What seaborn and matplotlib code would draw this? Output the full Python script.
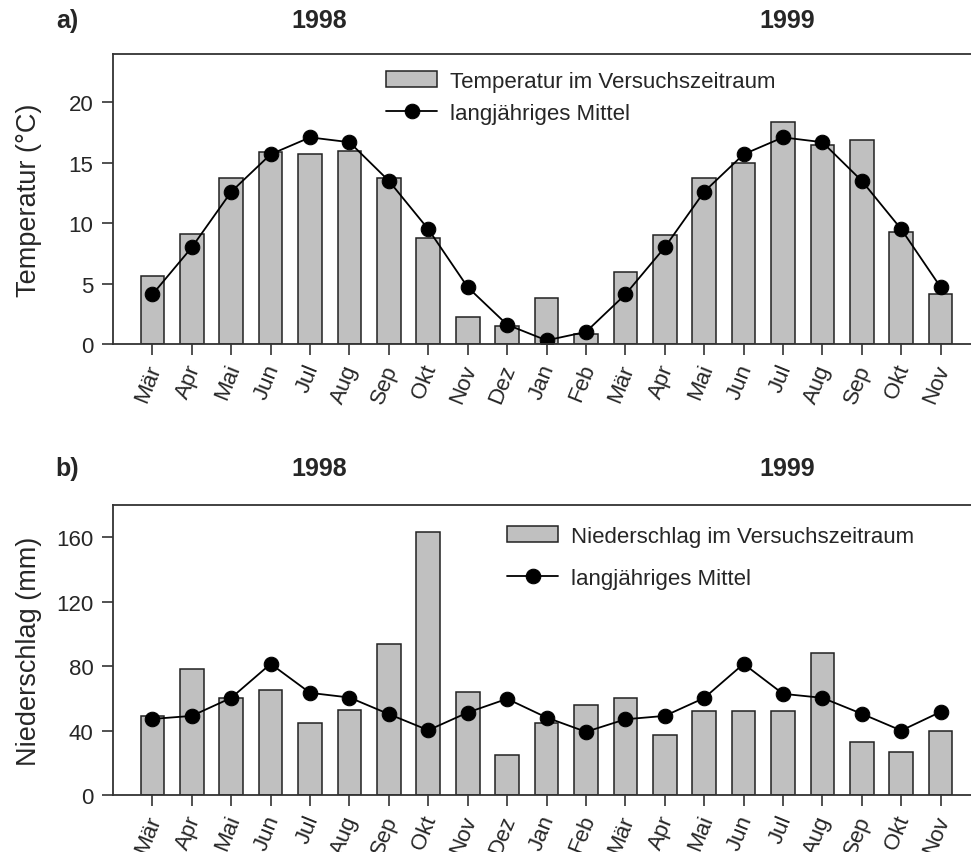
import numpy as np
import pandas as pd
import matplotlib
matplotlib.use("Agg")
import matplotlib.pyplot as plt
import matplotlib.transforms as mtransforms
import seaborn as sns

# Months of the trial period (March 1998 - November 1999)
months = ["Mär", "Apr", "Mai", "Jun", "Jul", "Aug", "Sep", "Okt", "Nov", "Dez",
          "Jan", "Feb", "Mär", "Apr", "Mai", "Jun", "Jul", "Aug", "Sep", "Okt", "Nov"]

# Monthly mean temperature during the trial (°C)
temp_trial = [5.6, 9.1, 13.7, 15.9, 15.7, 16.0, 13.7, 8.8, 2.2, 1.5,
              3.8, 0.8, 6.0, 9.0, 13.7, 15.0, 18.4, 16.5, 16.9, 9.3, 4.1]
# Long-term monthly mean temperature (°C)
temp_mean = [4.1, 8.0, 12.6, 15.7, 17.1, 16.7, 13.5, 9.5, 4.7, 1.6,
             0.3, 1.0, 4.1, 8.0, 12.6, 15.7, 17.1, 16.7, 13.5, 9.5, 4.7]

# Monthly precipitation during the trial (mm)
prec_trial = [49, 78, 60, 65, 45, 53, 94, 163, 64, 25,
              45, 56, 60, 37, 52, 52, 52, 88, 33, 27, 40]
# Long-term monthly mean precipitation (mm)
prec_mean = [47.2, 49.1, 60.3, 81.4, 63.4, 60.5, 50.2, 40.2, 51.2, 59.7,
             48.1, 39.2, 47.0, 49.1, 60.2, 81.4, 62.8, 60.3, 50.4, 40.0, 51.6]

years = ["1998", "1999"]

sns.set_theme(style="ticks")
plt.rcParams["font.family"] = ["Liberation Sans", "DejaVu Sans"]

W, H = 971, 853
fig = plt.figure(figsize=(W / 100, H / 100), dpi=100)

pos = np.arange(len(months))
df = pd.DataFrame({"pos": pos, "month": months,
                   "temp_trial": temp_trial, "temp_mean": temp_mean,
                   "prec_trial": prec_trial, "prec_mean": prec_mean})

spine_col = "#333333"
bar_col = "#c0c0c0"


def panel(rect, bar_col_name, mean_col_name, ylim, yticks, ylabel,
          bar_label, legend_xy, label_spacing, ylabel_x):
    ax = fig.add_axes(rect)
    sns.barplot(data=df, x="pos", y=bar_col_name, ax=ax, color=bar_col,
                saturation=1, width=0.6, edgecolor="#222222", linewidth=1.1,
                label=bar_label, errorbar=None)
    sns.lineplot(data=df, x="pos", y=mean_col_name, ax=ax, color="black",
                 linewidth=1.3, marker="o", markersize=10.5,
                 markeredgecolor="black", label="langjähriges Mittel")
    ax.set_xlim(-1.0, 20.77)
    ax.set_ylim(*ylim)
    ax.set_yticks(yticks)
    ax.set_xticks(pos)
    ax.tick_params(axis="y", labelsize=16, length=8, width=1.2,
                   color=spine_col, pad=6)
    ax.tick_params(axis="x", length=8, width=1.2, color=spine_col, pad=7)
    ax.set_xticklabels(months, rotation=68, ha="right", va="center",
                       rotation_mode="anchor", fontsize=16)
    # nudge the rotated month labels slightly to the right
    shift = mtransforms.ScaledTranslation(3 / 100, 0, fig.dpi_scale_trans)
    for lbl in ax.get_xticklabels():
        lbl.set_transform(lbl.get_transform() + shift)
    ax.set_xlabel("")
    ax.set_ylabel(ylabel, fontsize=19.5)
    ax.yaxis.set_label_coords(ylabel_x, 0.5)
    for side in ["left", "top", "bottom"]:
        ax.spines[side].set_color(spine_col)
        ax.spines[side].set_linewidth(1.3)
    ax.spines["right"].set_visible(False)

    # Bars listed first, long-term mean second
    handles, labels = ax.get_legend_handles_labels()
    order = [labels.index(bar_label), labels.index("langjähriges Mittel")]
    ax.legend([handles[i] for i in order], [labels[i] for i in order],
              loc="upper left", frameon=False, fontsize=16,
              bbox_to_anchor=(legend_xy[0] / W, 1 - legend_xy[1] / H),
              bbox_transform=fig.transFigure, borderpad=0,
              handlelength=2.3, handletextpad=0.6,
              labelspacing=label_spacing, borderaxespad=0)
    return ax


ax_top = panel([113 / W, 1 - 345 / H, 858 / W, 290 / H],
               "temp_trial", "temp_mean", (0, 24), [0, 5, 10, 15, 20],
               "Temperatur (°C)", "Temperatur im Versuchszeitraum",
               (386, 72), 0.5, -0.083)
ax_bot = panel([113 / W, 1 - 796 / H, 858 / W, 290 / H],
               "prec_trial", "prec_mean", (0, 180), [0, 40, 80, 120, 160],
               "Niederschlag (mm)", "Niederschlag im Versuchszeitraum",
               (507, 527), 0.95, -0.083)

# Panel letters and year headers
for letter, y in [("a)", 21), ("b)", 469)]:
    fig.text(67 / W, 1 - y / H, letter, fontsize=18, fontweight="bold",
             ha="center", va="center")
    fig.text(319 / W, 1 - y / H, years[0], fontsize=18, fontweight="bold",
             ha="center", va="center")
    fig.text(787 / W, 1 - y / H, years[1], fontsize=18, fontweight="bold",
             ha="center", va="center")

fig.savefig("out.png", dpi=100)
